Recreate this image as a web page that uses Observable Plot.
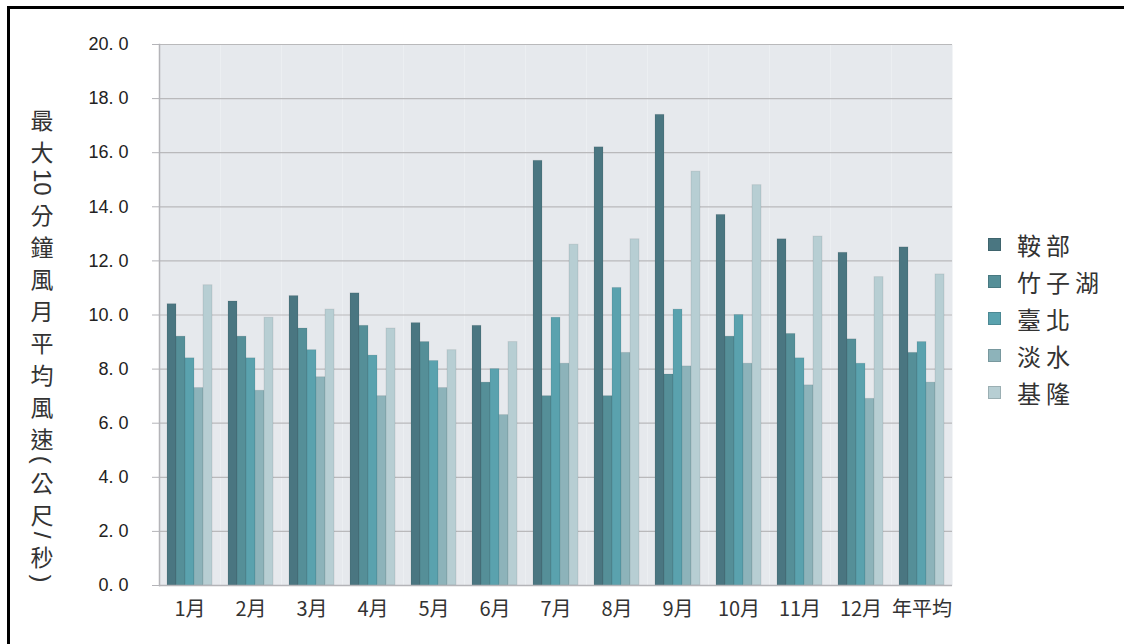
<!DOCTYPE html>
<html>
<head>
<meta charset="utf-8">
<script src="https://cdn.jsdelivr.net/npm/d3@7"></script>
<script src="https://cdn.jsdelivr.net/npm/@observablehq/plot@0.6"></script>
<style>
  html, body { margin: 0; padding: 0; background: #fff; }
  #wrap { position: relative; width: 1124px; height: 644px; overflow: hidden; font-family: "Liberation Sans", "Noto Sans CJK TC", sans-serif; }
  #border { position: absolute; left: 7px; top: 6px; width: 1130px; height: 660px; border-left: 3px solid #000; border-top: 3px solid #000; box-sizing: border-box; }
  #ytitle { position: absolute; left: 12px; top: 100px; }
  #legend { position: absolute; left: 988px; top: 226px; font-family: "Noto Sans CJK TC", sans-serif; font-size: 24px; letter-spacing: 5px; color: #333; }
  #legend .row { display: flex; align-items: center; height: 37px; }
  #legend .sw { width: 13px; height: 13px; margin-right: 16px; box-sizing: border-box; border: 1px solid rgba(0,0,0,0.15); }
  #chart { position: absolute; left: 0; top: 0; }
</style>
</head>
<body>
<div id="wrap">
  <div id="chart"></div>
  <div id="border"></div>
  <div id="ytitle"></div>
  <div id="legend"></div>
</div>
<script>
const months = ["1月","2月","3月","4月","5月","6月","7月","8月","9月","10月","11月","12月","年平均"];
const stations = ["鞍部","竹子湖","臺北","淡水","基隆"];
const colors = ["#4a7681","#558f98","#5aa2ae","#8db3ba","#b7ced3"];
const anbu     = [10.4, 10.5, 10.7, 10.8, 9.7, 9.6, 15.7, 16.2, 17.4, 13.7, 12.8, 12.3, 12.5];
const zhuzihu  = [9.2, 9.2, 9.5, 9.6, 9.0, 7.5, 7.0, 7.0, 7.8, 9.2, 9.3, 9.1, 8.6];
const taipei   = [8.4, 8.4, 8.7, 8.5, 8.3, 8.0, 9.9, 11.0, 10.2, 10.0, 8.4, 8.2, 9.0];
const tamsui   = [7.3, 7.2, 7.7, 7.0, 7.3, 6.3, 8.2, 8.6, 8.1, 8.2, 7.4, 6.9, 7.5];
const keelung  = [11.1, 9.9, 10.2, 9.5, 8.7, 9.0, 12.6, 12.8, 15.3, 14.8, 12.9, 11.4, 11.5];
const yTicks = [0, 2, 4, 6, 8, 10, 12, 14, 16, 18, 20];
const yTitle = "最大10分鐘風月平均風速(公尺/秒)";

const series = [anbu, zhuzihu, taipei, tamsui, keelung];
const data = [];
months.forEach((m, i) => stations.forEach((s, j) => data.push({month: m, station: s, value: series[j][i]})));

const chart = Plot.plot({
  width: 1124,
  height: 644,
  marginLeft: 156,
  marginRight: 170,
  marginTop: 44,
  marginBottom: 59,
  style: {fontFamily: "'Liberation Sans', 'Noto Sans CJK TC', sans-serif", background: "transparent"},
  fx: {domain: months, padding: 0, label: null},
  x: {domain: stations, paddingInner: 0, paddingOuter: 0.75, axis: null},
  y: {domain: [0, 20], label: null},
  color: {domain: stations, range: colors},
  marks: [
    Plot.frame({fill: "#e6e9ed", stroke: null}),
    Plot.ruleY(yTicks.filter(d => d > 0), {stroke: "#b9b9bb", strokeWidth: 1.2}),
    Plot.barY(data, {fx: "month", x: "station", y: "value", fill: "station", stroke: "#000", strokeOpacity: 0.08, strokeWidth: 1}),
    Plot.ruleY([0], {stroke: "#b4b4b8", strokeWidth: 1.5}),
    Plot.frame({anchor: "left", facetAnchor: "left", stroke: "#b4b4b8", strokeWidth: 1.5}),
    Plot.axisY({ticks: yTicks, tickSize: 7, tickPadding: 24, tickFormat: d => d.toFixed(1).replace(".", ". "), fontSize: 18, color: "#222", stroke: "#b4b4b8"}),
    Plot.axisFx({anchor: "bottom", tickSize: 0, tickPadding: 16, fontSize: 20, fontFamily: "'Noto Sans CJK TC', sans-serif", label: null, color: "#333"})
  ]
});
document.getElementById("chart").appendChild(chart);

// vertical y-axis title: CJK upright, Latin/punctuation rotated 90°
const svgT = d3.select("#ytitle").append("svg").attr("width", 60).attr("height", 520);
const cx = 30;
let yPos = 3;
(yTitle.match(/[0-9A-Za-z]+|./g) || []).forEach(tok => {
  const isCJK = /[\u3400-\u9fff]/.test(tok);
  const t = svgT.append("text")
    .text(tok)
    .attr("fill", "#333")
    .attr("text-anchor", "middle")
    .attr("dominant-baseline", "central");
  if (isCJK) {
    t.attr("font-family", "'Noto Sans CJK TC', sans-serif").attr("font-size", 23)
     .attr("x", cx).attr("y", yPos + 16);
    yPos += 32;
  } else {
    t.attr("font-family", "'Liberation Sans', sans-serif").attr("font-size", 24);
    const len = t.node().getComputedTextLength() + 4;
    t.attr("transform", `translate(${cx},${yPos + len / 2}) rotate(90)`);
    yPos += len;
  }
});

const legend = document.getElementById("legend");
stations.forEach((s, j) => {
  const row = document.createElement("div");
  row.className = "row";
  const sw = document.createElement("span");
  sw.className = "sw";
  sw.style.background = colors[j];
  const t = document.createElement("span");
  t.textContent = s;
  row.appendChild(sw); row.appendChild(t);
  legend.appendChild(row);
});
</script>
</body>
</html>
